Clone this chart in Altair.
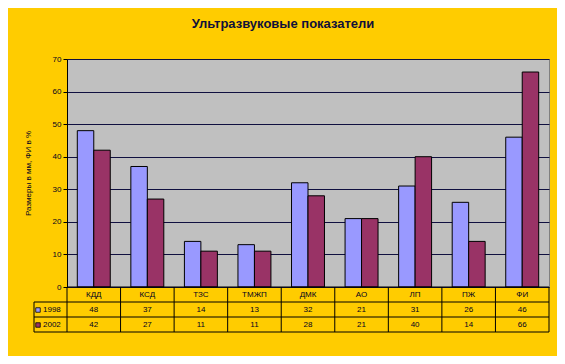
import altair as alt
import pandas as pd

categories = ["КДД", "КСД", "ТЗС", "ТМЖП", "ДМК", "АО", "ЛП", "ПЖ", "ФИ"]
series = ["1998", "2002"]
values_1998 = [48, 37, 14, 13, 32, 21, 31, 26, 46]
values_2002 = [42, 27, 11, 11, 28, 21, 40, 14, 66]
colors = ["#9999FF", "#993366"]
y_ticks = [0, 10, 20, 30, 40, 50, 60, 70]

rows = []
for c, a, b in zip(categories, values_1998, values_2002):
    rows.append({"category": c, "series": "1998", "value": a})
    rows.append({"category": c, "series": "2002", "value": b})
df = pd.DataFrame(rows)
cat_df = pd.DataFrame({"category": categories})
ser_df = pd.DataFrame({"series": series})

FONT = "Liberation Sans"
TXT = "#000020"
W, H = 482, 228

xcat = alt.X("category:N", sort=categories,
             scale=alt.Scale(paddingInner=0, paddingOuter=0), axis=None)
color = alt.Color("series:N", scale=alt.Scale(domain=series, range=colors), legend=None)

bars = alt.Chart(df).mark_bar(stroke="black", strokeWidth=1).encode(
    x=alt.X("category:N", sort=categories,
            scale=alt.Scale(paddingInner=0, paddingOuter=0),
            axis=alt.Axis(labels=False, ticks=False, domain=False, grid=False,
                          title="Измеряемые показатели", titleFont=FONT,
                          titleFontSize=9, titleFontWeight="normal", titleColor=TXT,
                          titleY=53, titleBaseline="middle")),
    xOffset=alt.XOffset("series:N", sort=series,
                        scale=alt.Scale(paddingOuter=0.625, paddingInner=0)),
    y=alt.Y("value:Q", scale=alt.Scale(domain=[0, 70], nice=False),
            axis=alt.Axis(values=y_ticks, grid=True, gridColor="#101040",
                          gridWidth=1, tickColor="black", tickSize=4,
                          domainColor="black", labelFont=FONT, labelFontSize=8,
                          labelColor=TXT, labelPadding=2,
                          title="Размеры в мм, ФИ в %", titleFont=FONT,
                          titleFontSize=8, titleFontWeight="normal", titleColor=TXT,
                          titleX=-39, titleY=H / 2, titleAngle=-90,
                          titleAlign="center", titleBaseline="middle")),
    color=color,
)

layers = [bars]

# table: top line and horizontal separators
for yv, x0 in [(H, 0), (H + 15, -33), (H + 30, -33), (H + 45, -33)]:
    layers.append(alt.Chart(cat_df.head(1)).mark_rule(color="black", strokeWidth=1).encode(
        x=alt.value(x0), x2=alt.value(W), y=alt.value(yv)))
# vertical lines at category boundaries
layers.append(alt.Chart(cat_df).mark_rule(color="black", strokeWidth=1).encode(
    x=alt.X("category:N", sort=categories, bandPosition=0,
            scale=alt.Scale(paddingInner=0, paddingOuter=0), axis=None),
    y=alt.value(H), y2=alt.value(H + 45)))
layers.append(alt.Chart(cat_df.head(1)).mark_rule(color="black", strokeWidth=1).encode(
    x=alt.value(W), y=alt.value(H), y2=alt.value(H + 45)))
layers.append(alt.Chart(cat_df.head(1)).mark_rule(color="black", strokeWidth=1).encode(
    x=alt.value(-33), y=alt.value(H + 15), y2=alt.value(H + 45)))

# category labels
layers.append(alt.Chart(cat_df).mark_text(font=FONT, fontSize=8, color=TXT).encode(
    x=xcat, y=alt.value(H + 8), text="category:N"))

# value rows + legend keys
for i, s in enumerate(series):
    yrow = H + 23 + 15 * i
    layers.append(alt.Chart(df).transform_filter(alt.datum.series == s)
                  .mark_text(font=FONT, fontSize=8, color=TXT).encode(
        x=xcat, y=alt.value(yrow), text="value:Q"))
    layers.append(alt.Chart(ser_df).transform_filter(alt.datum.series == s)
                  .mark_point(shape="square", size=20, filled=True, stroke="black",
                              strokeWidth=0.8, opacity=1).encode(
        x=alt.value(-29), y=alt.value(yrow), color=color))
    layers.append(alt.Chart(ser_df).transform_filter(alt.datum.series == s)
                  .mark_text(font=FONT, fontSize=8, color=TXT, align="left").encode(
        x=alt.value(-24), y=alt.value(yrow), text="series:N"))

# title
layers.append(alt.Chart(cat_df.head(1)).mark_text(
    text="Ультразвуковые показатели", font=FONT, fontSize=13, fontWeight="bold",
    color="#10103a").encode(x=alt.value(216), y=alt.value(-35)))

chart = alt.layer(*layers).properties(
    width=W, height=H,
    autosize=alt.AutoSizeParams(type="none"),
    padding={"left": 59, "top": 51, "right": 8, "bottom": 69},
    background="#FFCC00",
).configure_view(fill="#C0C0C0", stroke="#808080", strokeWidth=1)

chart.save("out.html", embed_options={"renderer": "svg", "actions": False})
